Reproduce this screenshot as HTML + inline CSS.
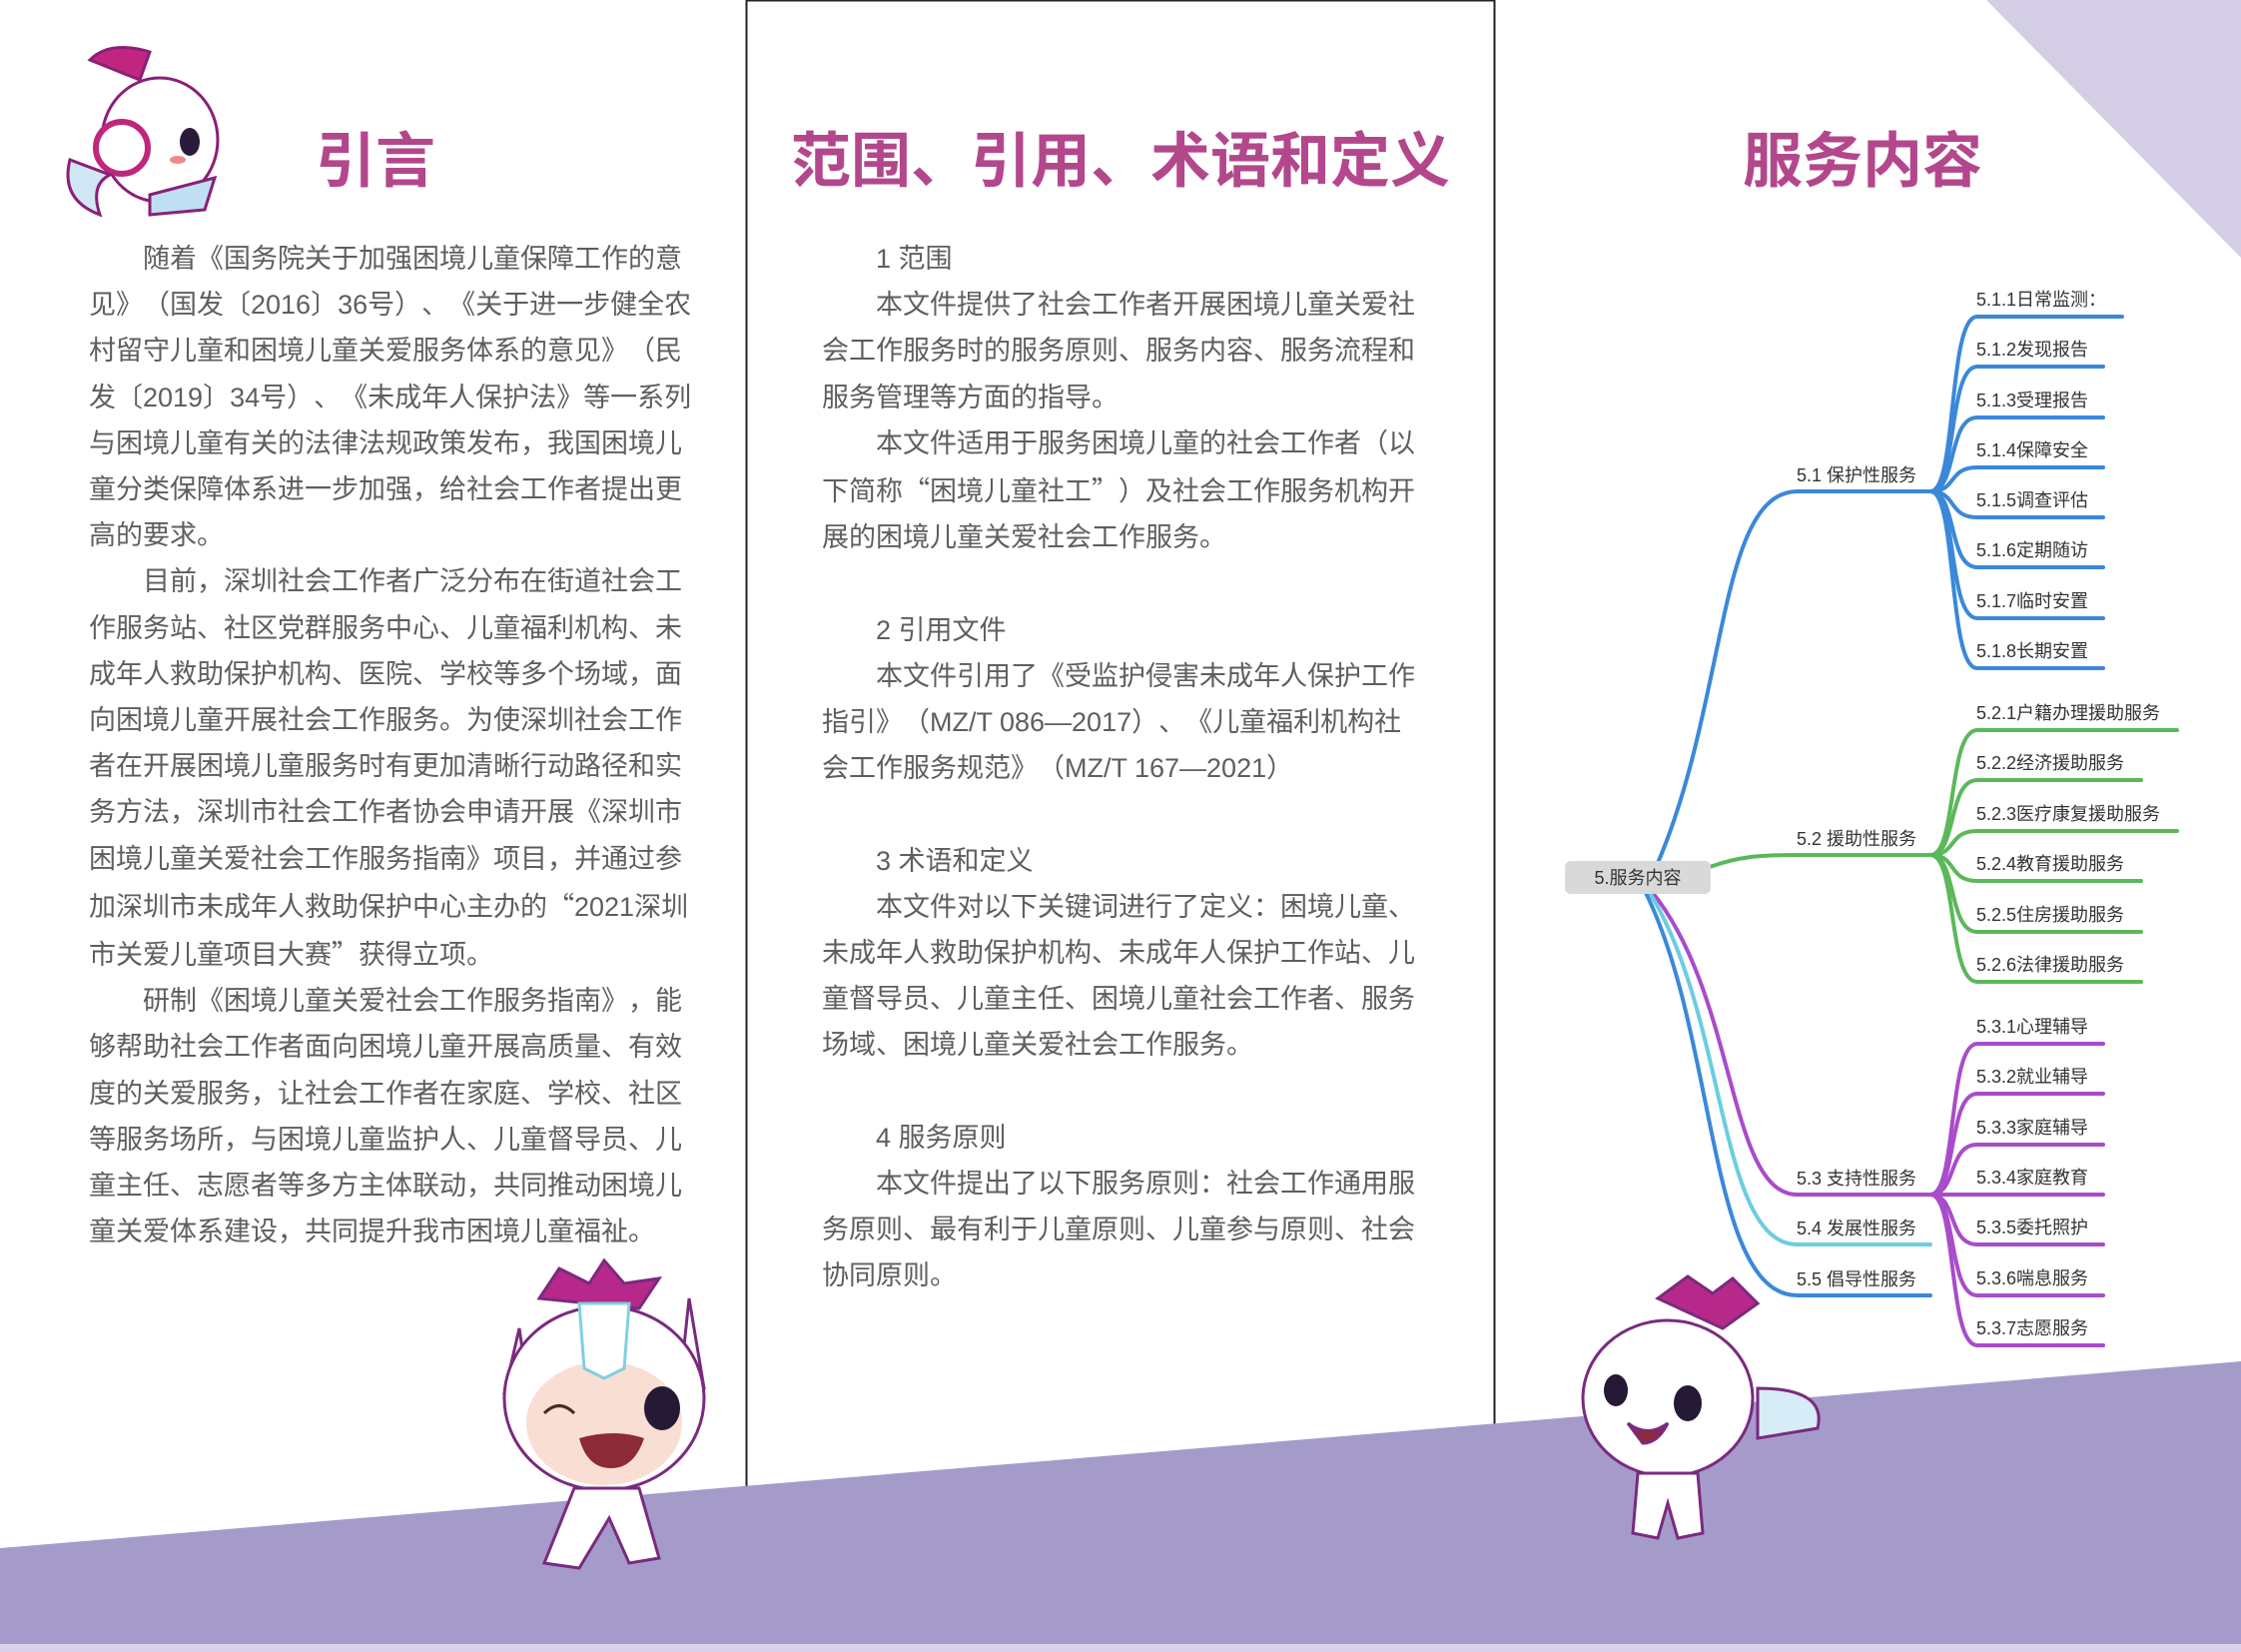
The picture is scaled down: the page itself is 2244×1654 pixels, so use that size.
<!DOCTYPE html>
<html><head><meta charset="utf-8"><style>
html,body{margin:0;padding:0;background:#fff}
#c{position:relative;width:2244px;height:1654px;overflow:hidden;background:#fff;font-family:"Liberation Sans","Noto Sans CJK SC",sans-serif;text-spacing-trim:space-all}
.t{position:absolute;font-size:27px;line-height:46.2px;color:#5e5e5e;white-space:pre;text-spacing-trim:space-all}
.q{font-family:"Noto Sans CJK SC",sans-serif}
.h{position:absolute;font-weight:bold;font-size:60px;color:#b3478c;white-space:nowrap;transform:translateX(-50%);line-height:70px;text-spacing-trim:space-all}
svg{position:absolute;left:0;top:0}
</style></head><body><div id="c">
<svg width="2244" height="1654">
<polygon points="1989,0 2244,0 2244,258" fill="#d3cde6"/>
<rect x="747.5" y="0.5" width="749" height="1600" fill="none" stroke="#222" stroke-width="2"/>
<polygon points="0,1550 2244,1363 2244,1654 0,1654" fill="#a59bcb"/>
<rect x="0" y="1646" width="2244" height="8" fill="#d8d3ea"/>
<g fill="none" stroke-width="4" stroke-linecap="round">
<path d="M1660,864 C1730,700 1720,492 1800,492 L1933,492" stroke="#3b88d9"/>
<path d="M1712,868 C1740,858 1760,856 1800,856 L1933,856" stroke="#5bb85a"/>
<path d="M1655,894 C1740,1000 1730,1196 1800,1196 L1933,1196" stroke="#a84ccb"/>
<path d="M1652,894 C1730,1020 1720,1246 1800,1246 L1933,1246" stroke="#6ccde0"/>
<path d="M1648,894 C1720,1040 1710,1297 1800,1297 L1933,1297" stroke="#3b88d9"/>
<g stroke="#3b88d9">
<path d="M1933,492 C1960,492 1950,317 1980,317 L2125,317"/>
<path d="M1933,492 C1960,492 1950,367 1980,367 L2106,367"/>
<path d="M1933,492 C1960,492 1950,418 1980,418 L2106,418"/>
<path d="M1933,492 C1960,492 1950,468 1980,468 L2106,468"/>
<path d="M1933,492 C1960,492 1950,518 1980,518 L2106,518"/>
<path d="M1933,492 C1960,492 1950,568 1980,568 L2106,568"/>
<path d="M1933,492 C1960,492 1950,619 1980,619 L2106,619"/>
<path d="M1933,492 C1960,492 1950,669 1980,669 L2106,669"/>
</g>
<g stroke="#5bb85a">
<path d="M1933,856 C1960,856 1950,731 1980,731 L2180,731"/>
<path d="M1933,856 C1960,856 1950,781 1980,781 L2144,781"/>
<path d="M1933,856 C1960,856 1950,832 1980,832 L2180,832"/>
<path d="M1933,856 C1960,856 1950,882 1980,882 L2144,882"/>
<path d="M1933,856 C1960,856 1950,933 1980,933 L2144,933"/>
<path d="M1933,856 C1960,856 1950,983 1980,983 L2144,983"/>
</g>
<g stroke="#a84ccb">
<path d="M1933,1196 C1960,1196 1950,1045 1980,1045 L2106,1045"/>
<path d="M1933,1196 C1960,1196 1950,1095 1980,1095 L2106,1095"/>
<path d="M1933,1196 C1960,1196 1950,1146 1980,1146 L2106,1146"/>
<path d="M1933,1196 L2106,1196"/>
<path d="M1933,1196 C1960,1196 1950,1246 1980,1246 L2106,1246"/>
<path d="M1933,1196 C1960,1196 1950,1297 1980,1297 L2106,1297"/>
<path d="M1933,1196 C1960,1196 1950,1347 1980,1347 L2106,1347"/>
</g>
</g>
<rect x="1567" y="862" width="146" height="33" rx="6" fill="#d9d9d9"/>
<g font-family="Liberation Sans,Noto Sans CJK SC,sans-serif" font-size="18" fill="#333">
<text x="1640" y="885" text-anchor="middle">5.服务内容</text>
<text x="1799" y="482">5.1 保护性服务</text>
<text x="1799" y="846">5.2 援助性服务</text>
<text x="1799" y="1186">5.3 支持性服务</text>
<text x="1799" y="1236">5.4 发展性服务</text>
<text x="1799" y="1287">5.5 倡导性服务</text>
<text x="1979" y="306">5.1.1日常监测：</text>
<text x="1979" y="356">5.1.2发现报告</text>
<text x="1979" y="407">5.1.3受理报告</text>
<text x="1979" y="457">5.1.4保障安全</text>
<text x="1979" y="507">5.1.5调查评估</text>
<text x="1979" y="557">5.1.6定期随访</text>
<text x="1979" y="608">5.1.7临时安置</text>
<text x="1979" y="658">5.1.8长期安置</text>
<text x="1979" y="720">5.2.1户籍办理援助服务</text>
<text x="1979" y="770">5.2.2经济援助服务</text>
<text x="1979" y="821">5.2.3医疗康复援助服务</text>
<text x="1979" y="871">5.2.4教育援助服务</text>
<text x="1979" y="922">5.2.5住房援助服务</text>
<text x="1979" y="972">5.2.6法律援助服务</text>
<text x="1979" y="1034">5.3.1心理辅导</text>
<text x="1979" y="1084">5.3.2就业辅导</text>
<text x="1979" y="1135">5.3.3家庭辅导</text>
<text x="1979" y="1185">5.3.4家庭教育</text>
<text x="1979" y="1235">5.3.5委托照护</text>
<text x="1979" y="1286">5.3.6喘息服务</text>
<text x="1979" y="1336">5.3.7志愿服务</text>
</g>
<g stroke="#8a1f78" stroke-width="3">
<path d="M90,60 Q110,40 150,52 L140,80 Z" fill="#c0267e"/>
<ellipse cx="160" cy="140" rx="58" ry="62" fill="#fff"/>
<circle cx="122" cy="148" r="26" fill="#fff" stroke="#c0267e" stroke-width="6"/>
<path d="M70,160 Q60,200 100,215 Q90,185 110,175 Z" fill="#cfe6f5"/>
<path d="M150,195 L215,178 L205,210 L150,215 Z" fill="#bfe0f2"/>
<ellipse cx="190" cy="142" rx="10" ry="14" fill="#2b1b3a" stroke="none"/>
<ellipse cx="178" cy="160" rx="8" ry="4" fill="#f08a8a" stroke="none"/>
</g>
<g stroke="#7a2a7e" stroke-width="3">
<path d="M540,1300 L560,1270 L590,1285 L605,1262 L625,1285 L660,1280 L640,1310 Z" fill="#b6298a"/>
<path d="M520,1330 L505,1395 L530,1400 Z" fill="#fff"/>
<path d="M690,1300 L705,1390 L680,1395 Z" fill="#fff"/>
<ellipse cx="605" cy="1400" rx="100" ry="92" fill="#fff"/>
<ellipse cx="605" cy="1425" rx="78" ry="62" fill="#f9ded3" stroke="none"/>
<path d="M580,1305 L630,1305 L625,1370 L605,1380 L585,1370 Z" fill="#fff" stroke="#7fd0e0"/>
<ellipse cx="663" cy="1410" rx="18" ry="22" fill="#241a36" stroke="none"/>
<path d="M545,1415 Q560,1400 575,1415" fill="none" stroke="#4a2a20"/>
<path d="M580,1440 Q615,1430 645,1440 Q635,1470 612,1470 Q588,1470 580,1440 Z" fill="#8c2a3a" stroke="none"/>
<path d="M575,1490 L640,1490 L660,1560 L630,1565 L610,1520 L580,1570 L545,1565 Z" fill="#fff"/>
</g>
<g stroke="#7a2a7e" stroke-width="3">
<path d="M1660,1300 L1690,1278 L1715,1295 L1735,1280 L1760,1305 L1725,1330 Z" fill="#b6298a"/>
<path d="M1760,1390 Q1830,1390 1820,1430 L1760,1440 Z" fill="#d6ecf7"/>
<ellipse cx="1670" cy="1400" rx="85" ry="78" fill="#fff"/>
<ellipse cx="1618" cy="1392" rx="12" ry="16" fill="#241a36" stroke="none"/>
<ellipse cx="1690" cy="1405" rx="14" ry="18" fill="#241a36" stroke="none"/>
<path d="M1630,1425 Q1650,1440 1670,1425 Q1660,1445 1645,1445 Z" fill="#8c2a3a"/>
<path d="M1640,1475 L1700,1475 L1705,1535 L1680,1540 L1670,1505 L1660,1540 L1635,1535 Z" fill="#fff"/>
</g>
</svg>

<div class="h" style="left:376px;top:127px">引言</div>
<div class="h" style="left:1122px;top:127px">范围、引用、术语和定义</div>
<div class="h" style="left:1865px;top:127px">服务内容</div>

<div class="t" style="left:89px;top:236px">　　随着《国务院关于加强困境儿童保障工作的意
见》（国发〔2016〕36号）、《关于进一步健全农
村留守儿童和困境儿童关爱服务体系的意见》（民
发〔2019〕34号）、《未成年人保护法》等一系列
与困境儿童有关的法律法规政策发布，我国困境儿
童分类保障体系进一步加强，给社会工作者提出更
高的要求。
　　目前，深圳社会工作者广泛分布在街道社会工
作服务站、社区党群服务中心、儿童福利机构、未
成年人救助保护机构、医院、学校等多个场域，面
向困境儿童开展社会工作服务。为使深圳社会工作
者在开展困境儿童服务时有更加清晰行动路径和实
务方法，深圳市社会工作者协会申请开展《深圳市
困境儿童关爱社会工作服务指南》项目，并通过参
加深圳市未成年人救助保护中心主办的<span class="q">“</span>2021深圳
市关爱儿童项目大赛<span class="q">”</span>获得立项。
　　研制《困境儿童关爱社会工作服务指南》，能
够帮助社会工作者面向困境儿童开展高质量、有效
度的关爱服务，让社会工作者在家庭、学校、社区
等服务场所，与困境儿童监护人、儿童督导员、儿
童主任、志愿者等多方主体联动，共同推动困境儿
童关爱体系建设，共同提升我市困境儿童福祉。</div>

<div class="t" style="left:823px;top:236px">　　1 范围
　　本文件提供了社会工作者开展困境儿童关爱社
会工作服务时的服务原则、服务内容、服务流程和
服务管理等方面的指导。
　　本文件适用于服务困境儿童的社会工作者（以
下简称<span class="q">“</span>困境儿童社工<span class="q">”</span>）及社会工作服务机构开
展的困境儿童关爱社会工作服务。

　　2 引用文件
　　本文件引用了《受监护侵害未成年人保护工作
指引》（MZ/T 086—2017）、《儿童福利机构社
会工作服务规范》（MZ/T 167—2021）

　　3 术语和定义
　　本文件对以下关键词进行了定义：困境儿童、
未成年人救助保护机构、未成年人保护工作站、儿
童督导员、儿童主任、困境儿童社会工作者、服务
场域、困境儿童关爱社会工作服务。

　　4 服务原则
　　本文件提出了以下服务原则：社会工作通用服
务原则、最有利于儿童原则、儿童参与原则、社会
协同原则。</div>
</div></body></html>
